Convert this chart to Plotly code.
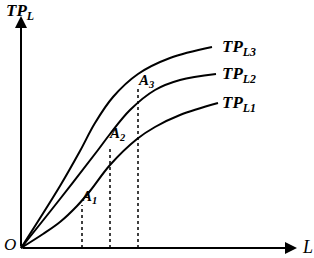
import plotly.graph_objects as go

# Data (L, TP)
tp3_L = [0, 39, 59, 74, 92, 117, 149, 191]
tp3_v = [0, 62, 97, 125, 151, 174, 190, 201]
tp2_L = [0, 39, 77, 89, 109, 134, 159, 195]
tp2_v = [0, 49, 98, 114, 138, 158, 168, 174]
tp1_L = [0, 22, 39, 56, 69, 89, 116, 134, 159, 197]
tp1_v = [0, 14, 26, 42, 57, 83, 109, 121, 133, 145]

drop_L = [61, 89, 117]
drop_top = [43, 100, 160]
point_names = ["A<sub>1</sub>", "A<sub>2</sub>", "A<sub>3</sub>"]
point_label_L = [68, 96, 125]
point_label_TP = [51, 114, 167]

curve_names = ["TP<sub>L3</sub>", "TP<sub>L2</sub>", "TP<sub>L1</sub>"]
curve_label_L = [199, 199, 199]
curve_label_TP = [200, 173, 144]

FONT = "Liberation Serif"

fig = go.Figure()
for xs, ys in [(tp3_L, tp3_v), (tp2_L, tp2_v), (tp1_L, tp1_v)]:
    fig.add_trace(go.Scatter(x=xs, y=ys, mode="lines",
                             line=dict(color="black", width=2, shape="spline", smoothing=1),
                             hoverinfo="skip", showlegend=False))

for L, top in zip(drop_L, drop_top):
    fig.add_trace(go.Scatter(x=[L, L], y=[0, top], mode="lines",
                             line=dict(color="black", width=1.5, dash="dot"),
                             hoverinfo="skip", showlegend=False))

# axes with arrows
fig.add_annotation(x=276, y=0, ax=0, ay=0, xref="x", yref="y", axref="x", ayref="y",
                   showarrow=True, arrowhead=2, arrowsize=1.2, arrowwidth=2, arrowcolor="black", text="")
fig.add_annotation(x=0, y=232, ax=0, ay=0, xref="x", yref="y", axref="x", ayref="y",
                   showarrow=True, arrowhead=2, arrowsize=1.2, arrowwidth=2, arrowcolor="black", text="")

def label(x, y, t, size=16, xanchor="left"):
    fig.add_annotation(x=x, y=y, xref="x", yref="y", text=t, showarrow=False,
                       xanchor=xanchor, yanchor="middle",
                       font=dict(family=FONT, size=size, color="black"))

for n, x, y in zip(curve_names, curve_label_L, curve_label_TP):
    label(x, y, "<b><i>" + n + "</i></b>", size=17)
for n, x, y in zip(point_names, point_label_L, point_label_TP):
    label(x, y, "<b><i>" + n + "</i></b>", size=15, xanchor="center")

label(-17, 236, "<b><i>TP<sub>L</sub></i></b>", size=17)
label(-19, 4, "<i>O</i>", size=17)
label(279, 1, "<i>L</i>", size=18)

fig.update_layout(
    width=314, height=258,
    margin=dict(l=0, r=0, t=0, b=0),
    paper_bgcolor="white", plot_bgcolor="white",
    xaxis=dict(range=[-21, 293], visible=False, fixedrange=True),
    yaxis=dict(range=[-10, 248], visible=False, fixedrange=True),
)
fig.write_html("out.html")
